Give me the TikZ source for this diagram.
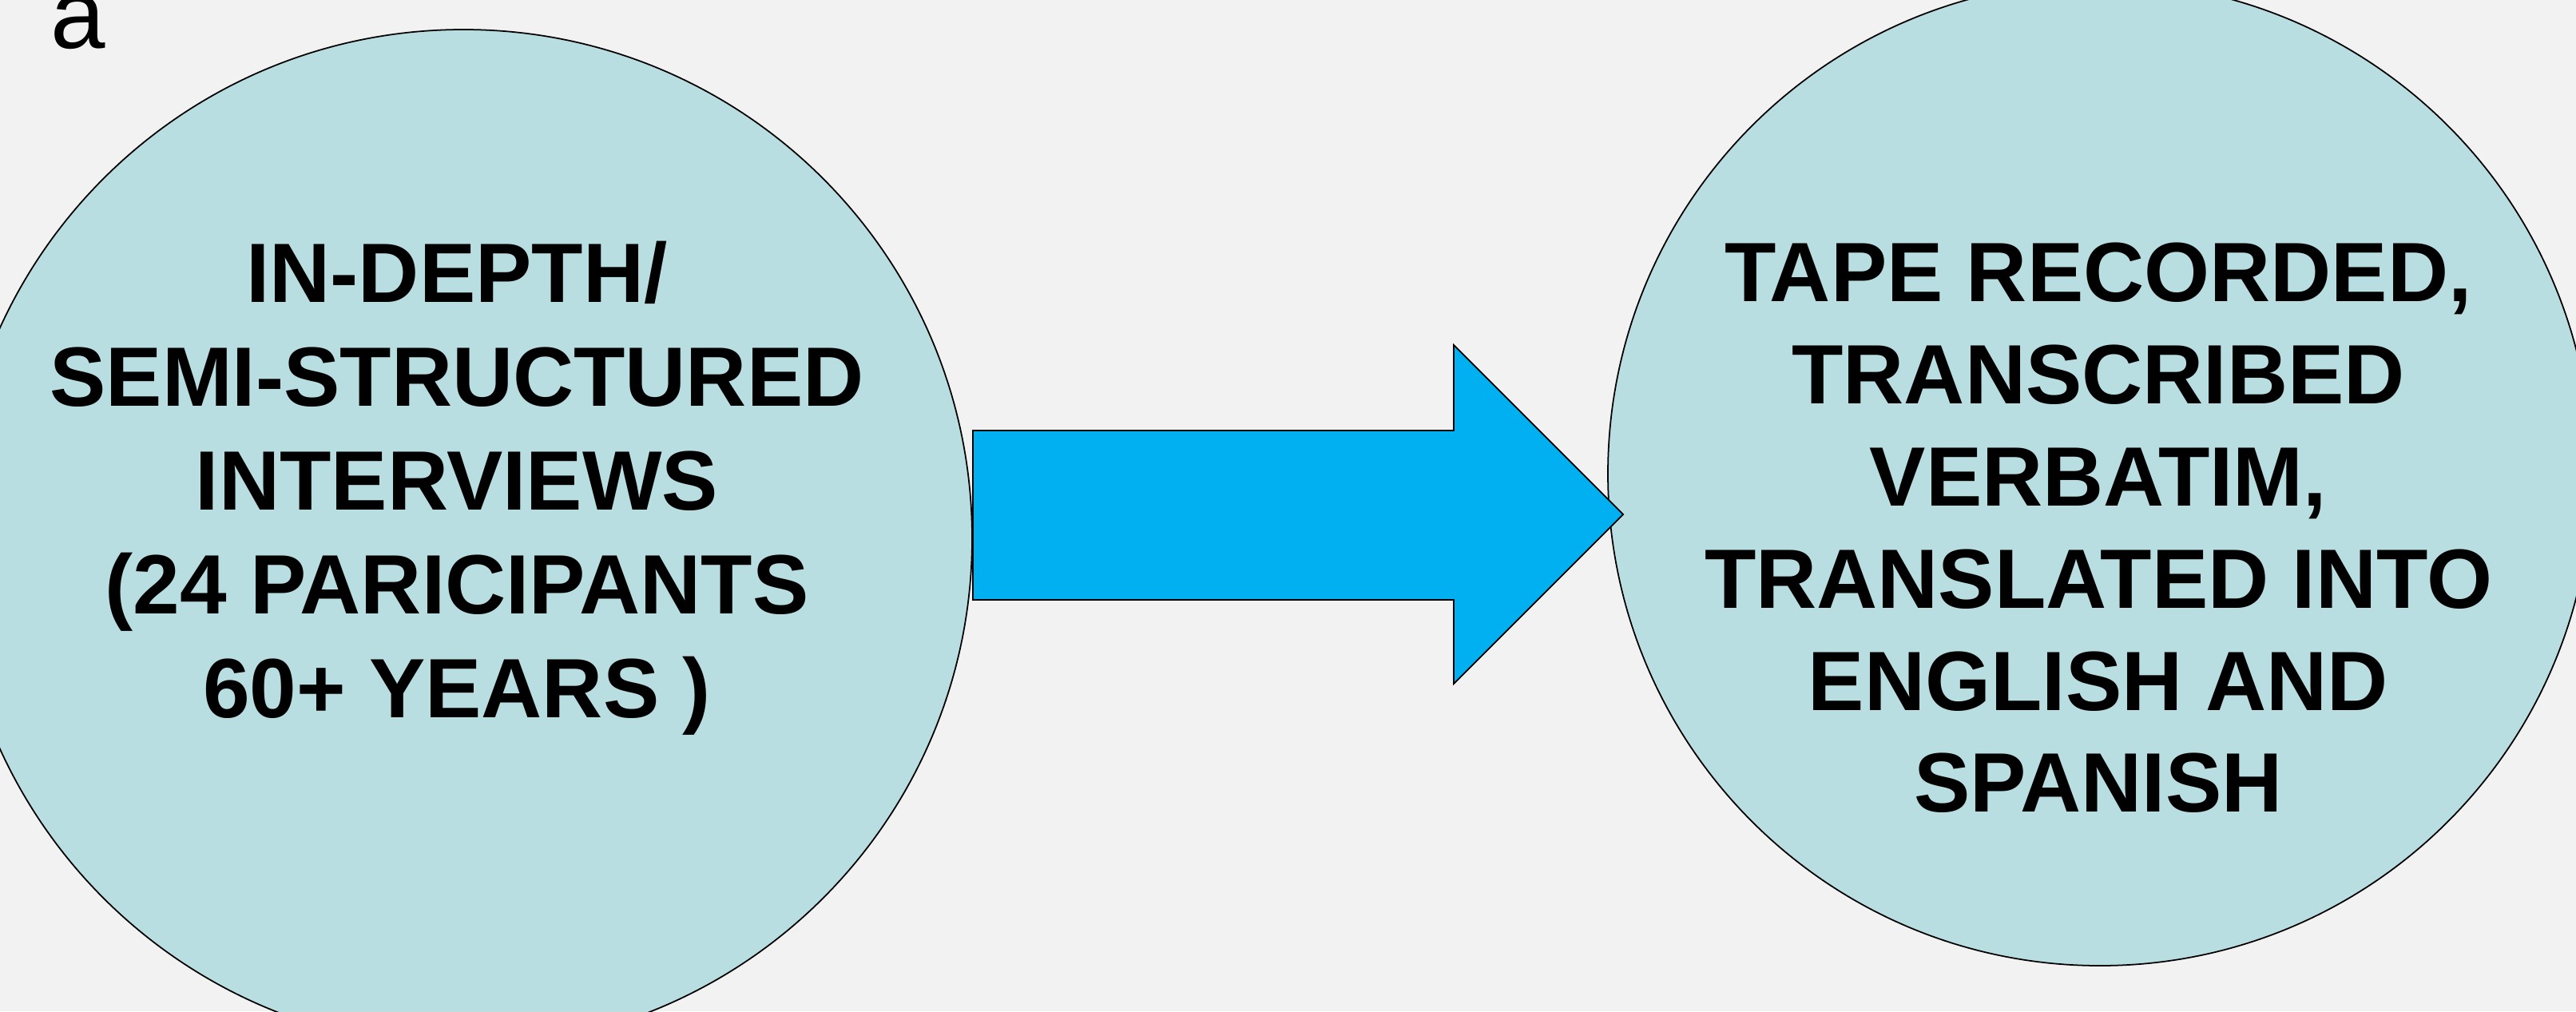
\documentclass[tikz,border=0pt]{standalone}
\usepackage{fontspec}
\setmainfont{Liberation Sans}
\definecolor{bggray}{HTML}{F2F2F2}
\definecolor{circblue}{HTML}{B9DEE2}
\definecolor{arrowblue}{HTML}{00B0F0}

\begin{document}
\begin{tikzpicture}[
	stage/.style={circle, draw=black, line width=0.5pt, fill=circblue, minimum size=#1, inner sep=0pt},
	stagetext/.style={align=center, anchor=north, inner sep=0pt, font=\bfseries\fontsize{30}{#1}\selectfont}]
	\useasboundingbox (0,0) rectangle (32.25,12.66);
	\clip (0,0) rectangle (32.25,12.66);
	\fill [bggray] (0,0) rectangle (32.25,12.66);

	\coordinate (S1) at (12.18, 7.27);
	\coordinate (S2) at (18.20, 7.27);
	\coordinate (H1) at (18.20, 8.34);
	\coordinate (T) at (20.32, 6.22);
	\coordinate (H2) at (18.20, 4.10);
	\coordinate (S3) at (18.20, 5.15);
	\coordinate (S4) at (12.18, 5.15);

	\node [anchor=base west, inner sep=0pt, font=\fontsize{35}{40}\selectfont] (lbl) at (0.63, 12.06) {a};

	\node [stage=12.74cm] (interviews) at (5.80, 5.92) {};
	\node [stage=12.32cm] (records) at (26.29, 6.73) {};

	\draw [fill=arrowblue, line width=0.5pt] (S1) -- (S2) -- (H1) -- (T) -- (H2) -- (S3) -- (S4) -- cycle;

	\node [stagetext=37] (ltext) at (5.72, 9.65) {IN-DEPTH/\\SEMI-STRUCTURED\\INTERVIEWS\\(24 PARICIPANTS\\60+ YEARS )};
	\node [stagetext=36.4] (rtext) at (26.27, 9.63) {TAPE RECORDED,\\TRANSCRIBED\\VERBATIM,\\TRANSLATED INTO\\ENGLISH AND\\SPANISH};
\end{tikzpicture}
\end{document}
